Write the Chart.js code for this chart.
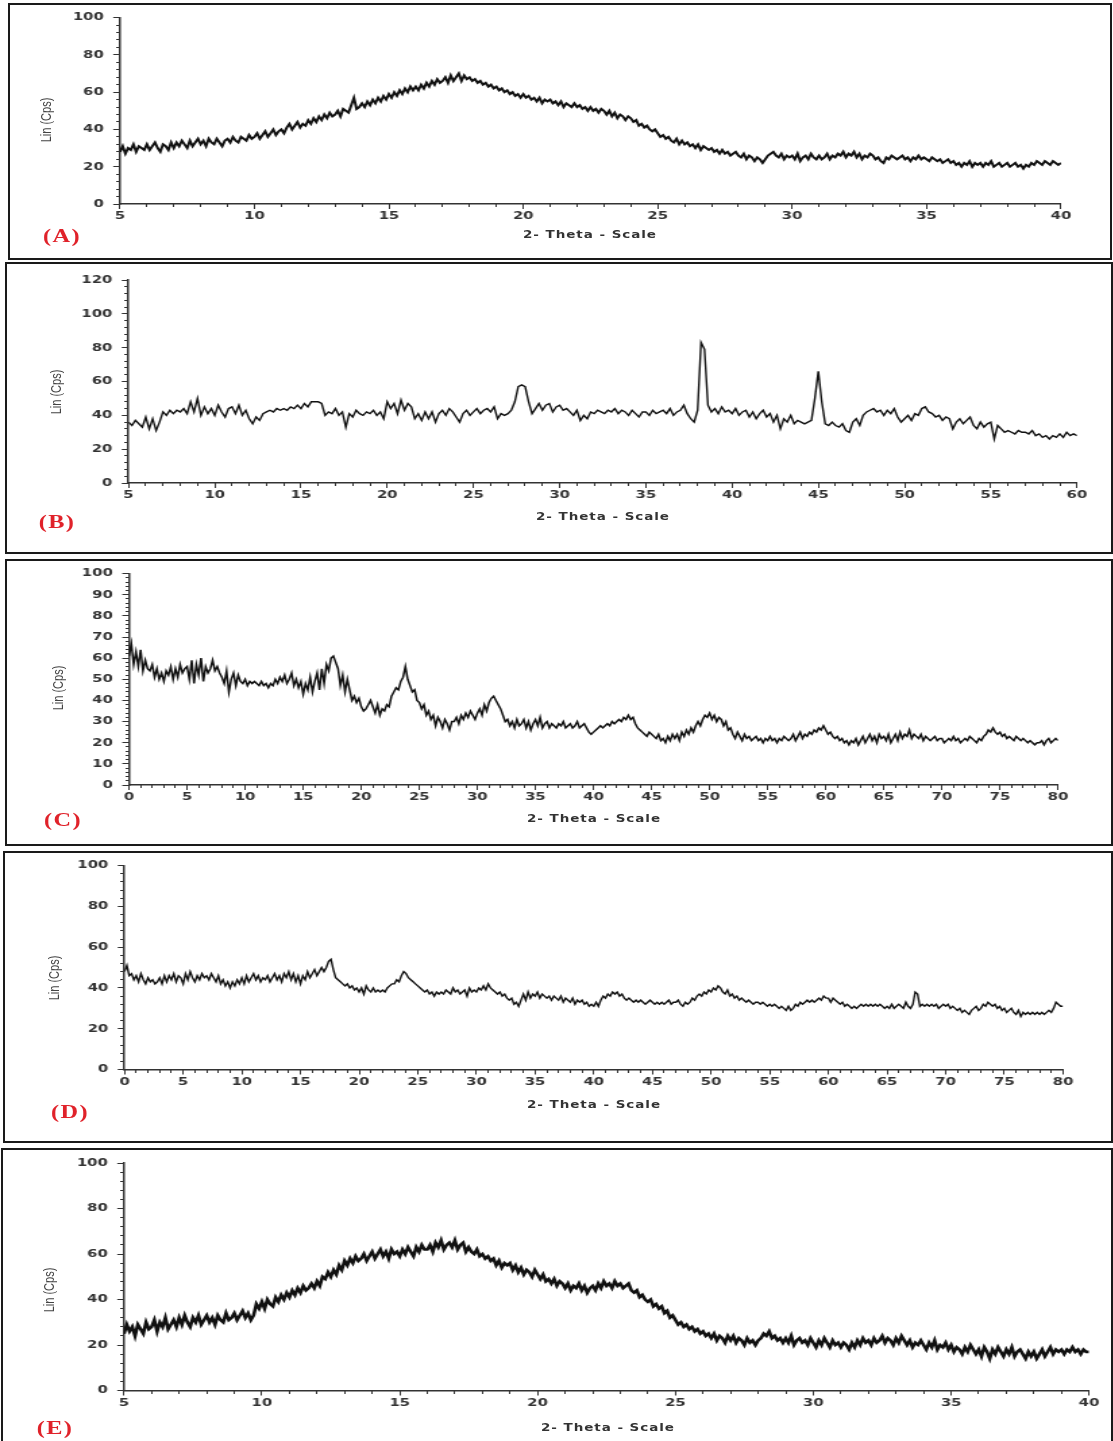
<!DOCTYPE html>
<html>
<head>
<meta charset="utf-8">
<script src="https://cdn.jsdelivr.net/npm/chart.js@4.4.1/dist/chart.umd.min.js"></script>
<style>
  html, body { margin: 0; padding: 0; background: #fff; }
  body { width: 1113px; height: 1441px; position: relative; overflow: hidden; }
  .frame { position: absolute; box-sizing: border-box; border: 2px solid #1a1a1a; }
  .panel { position: absolute; left: 0; width: 825px; transform: scaleX(1.35); transform-origin: 0 0; }
  .cw { position: absolute; left: 0; top: 0; width: 100%; height: 100%; }
  .xt { position: absolute; font: bold 10px "DejaVu Sans"; letter-spacing: 0.7px; color: #333; transform: translate(-50%, -50%); white-space: nowrap; }
  .yt { position: absolute; font: 11px "Liberation Sans"; color: #444; transform: translate(-50%, -50%) rotate(-90deg); white-space: nowrap; }
  .tag { position: absolute; font: bold 18px "Liberation Serif"; color: #e0222a; letter-spacing: 1px; transform: translate(-50%, -50%); white-space: nowrap; }
</style>
</head>
<body>
<script>
// 2-theta grids (instrument start / step) and Lin (Cps) readings
const aStart = 5, aStep = 0.1;
const aCps = [
  28,31,27,30,29,32,28,31,30,29, 32,29,31,33,30,28,32,31,29,33,
  30,33,31,34,32,30,34,31,33,35, 32,34,31,35,33,32,35,33,31,34,
  35,33,36,34,33,36,35,34,37,35, 36,38,35,37,39,36,38,40,37,39,
  40,38,41,43,40,42,44,41,43,42, 45,43,46,44,47,45,48,46,49,47,
  48,50,47,51,50,49,53,57,51,52, 54,52,55,53,56,54,57,55,58,56,
  59,57,60,58,61,59,62,60,63,61, 63,61,64,62,65,63,66,64,67,65,
  66,68,65,69,66,68,70,66,69,67, 68,66,67,65,66,64,65,63,64,62,
  63,61,62,60,61,59,60,58,59,57, 59,57,58,56,57,55,57,54,56,55,
  56,54,55,53,55,52,54,53,52,54, 52,53,51,52,50,52,50,51,49,51,
  50,48,50,47,49,46,48,47,45,47, 46,44,45,42,43,41,42,40,39,40,
  38,36,37,35,36,34,33,35,32,34, 32,33,31,32,30,32,29,31,30,29,
  30,28,29,27,29,27,28,26,27,28, 26,25,27,24,26,25,23,25,24,22,
  24,26,27,28,26,25,27,24,26,25, 26,24,27,23,25,26,24,27,25,24,
  26,24,25,27,24,26,25,27,26,28, 25,27,26,28,25,27,24,26,25,27,
  26,24,25,23,22,25,24,26,25,24, 25,26,24,25,23,25,24,26,24,25,
  24,23,25,24,23,24,22,23,24,22, 23,21,22,20,22,21,23,20,22,21,
  22,20,22,21,23,20,21,22,20,21, 22,20,21,22,20,21,19,21,20,22,
  21,23,22,21,23,22,21,23,22,21, 22
];
const aTicksX = [5, 10, 15, 20, 25, 30, 35, 40];
const aTicksY = [0, 20, 40, 60, 80, 100];

const bStart = 5, bStep = 0.2;
const bCps = [
  36,34,37,35,33, 39,32,38,31,36, 42,40,43,41,43, 42,44,41,48,42, 50,40,45,41,44,
  40,46,42,39,44, 45,41,46,40,43, 38,35,39,37,41, 42,43,42,44,43, 44,43,45,44,46,
  44,47,45,48,48, 48,47,40,42,41, 44,40,42,33,41, 39,43,41,40,42, 41,43,40,42,38,
  48,44,47,41,49, 43,47,45,38,41, 37,42,38,42,36, 41,43,40,44,42, 39,36,41,43,40,
  42,44,41,43,44, 42,45,38,41,40, 41,43,48,57,58, 57,48,41,44,47, 43,46,47,42,45,
  46,43,44,42,40, 43,37,40,38,42, 41,43,42,41,43, 42,44,41,43,42, 40,43,41,39,42,
  42,40,43,41,42, 43,41,44,40,42, 43,46,41,38,36, 43,83,79,46,42, 44,41,45,42,43,
  41,44,40,42,43, 39,42,38,41,43, 39,41,36,40,32, 38,36,40,35,37, 36,35,36,37,50,
  66,48,35,34,36, 34,33,35,31,30, 36,38,34,40,42, 43,44,42,43,40, 43,41,44,39,36,
  38,40,37,41,40, 44,45,42,41,39, 40,37,39,38,32, 36,38,35,37,39, 34,32,36,33,35,
  36,26,34,32,30, 31,30,29,31,30, 30,29,31,28,29, 27,28,26,28,27, 29,27,30,28,29,
  28
];
const bTicksX = [5, 10, 15, 20, 25, 30, 35, 40, 45, 50, 55, 60];
const bTicksY = [0, 20, 40, 60, 80, 100, 120];

const cStart = 0, cStep = 0.2;
const cCps = [
  61,67,57,63,56, 64,54,59,55,54, 57,51,55,50,53, 49,54,52,56,50, 55,51,57,53,55,
  56,50,59,48,57, 52,60,49,56,53, 55,59,54,56,53, 51,48,54,44,50, 53,47,52,49,48,
  50,47,49,48,49, 48,47,49,47,48, 46,48,47,50,48, 51,49,52,48,50, 53,47,50,46,49,
  43,48,45,51,44, 49,53,45,55,48, 57,54,60,61,58, 55,47,52,44,50, 45,40,42,39,41,
  37,35,36,38,40, 37,34,38,33,36, 35,38,37,42,44, 46,45,49,51,56, 50,47,44,45,40,
  39,36,38,33,35, 31,33,28,32,30, 27,31,29,26,30, 30,32,29,33,31, 34,32,35,33,31,
  34,36,33,38,35, 39,41,42,40,38, 36,33,30,31,28, 30,27,31,28,29, 31,27,30,26,29,
  31,28,32,27,29, 30,27,29,28,27, 29,28,30,27,28, 29,27,28,30,27, 28,29,27,25,24,
  25,26,27,28,27, 28,29,28,30,29, 30,31,30,32,31, 33,31,32,29,27, 26,25,24,23,25,
  24,23,22,24,21, 22,20,23,21,24, 22,24,21,25,23, 26,24,27,25,28, 30,28,31,33,32,
  34,31,33,30,32, 31,28,30,26,27, 24,22,25,23,21, 24,22,23,21,22, 23,21,22,20,22,
  21,23,21,22,20, 22,21,23,22,21, 22,24,21,23,25, 22,24,23,25,24, 26,25,27,26,28,
  26,24,25,23,22, 23,21,22,20,21, 19,21,20,22,19, 21,23,20,22,24, 21,23,20,24,22,
  23,21,24,20,22, 24,21,25,22,24, 23,26,22,24,23, 22,24,21,23,22, 21,22,23,21,22,
  22,20,21,22,21, 23,21,22,20,21, 22,21,23,22,21, 20,22,21,23,24, 26,25,27,25,24,
  25,23,24,22,23, 22,21,23,22,21, 22,21,20,21,20, 19,20,20,21,19, 21,22,20,21,22,
  21
];
const cTicksX = [0, 5, 10, 15, 20, 25, 30, 35, 40, 45, 50, 55, 60, 65, 70, 75, 80];
const cTicksY = [0, 10, 20, 30, 40, 50, 60, 70, 80, 90, 100];

const dStart = 0, dStep = 0.2;
const dCps = [
  48,51,46,47,44, 46,43,47,44,42, 45,43,44,42,43, 45,42,46,43,46, 44,47,43,46,45,
  42,47,44,48,45, 43,46,44,47,45, 46,44,47,45,43, 46,42,44,41,43, 40,43,41,44,42,
  45,42,46,43,45, 47,44,46,43,45, 44,46,43,45,47, 44,46,43,47,45, 48,44,47,43,46,
  42,46,44,48,45, 47,49,46,48,50, 48,50,53,54,49, 45,44,43,42,41, 42,40,41,39,40,
  38,40,37,41,39, 38,40,38,39,38, 39,38,40,41,42, 42,44,43,46,48, 47,45,44,43,42,
  41,40,39,38,39, 37,38,36,38,37, 38,37,39,38,37, 40,38,39,37,38, 39,36,40,38,39,
  38,40,39,41,39, 42,40,39,38,37, 38,36,37,35,34, 35,32,33,31,34, 37,34,38,35,37,
  36,38,35,37,36, 35,36,34,36,35, 34,36,33,35,34, 33,35,32,34,33, 34,32,33,31,32,
  31,33,31,34,36, 35,37,36,38,37, 38,36,37,35,34, 35,34,33,34,33, 34,33,32,33,34,
  33,32,33,32,33, 32,33,34,32,33, 33,34,32,31,33, 32,33,35,34,36, 37,36,38,37,39,
  38,40,39,41,40, 38,37,39,36,37, 35,36,34,35,34, 33,34,33,32,33, 33,32,33,32,31,
  32,31,32,31,30, 31,30,29,31,29, 30,32,31,33,32, 33,34,33,34,33, 34,35,34,36,35,
  35,33,35,34,33, 32,33,31,32,31, 30,31,30,31,32, 31,32,31,32,31, 32,31,32,31,30,
  31,30,32,30,31, 32,31,30,33,31, 30,32,38,37,31, 32,31,32,31,32, 31,32,30,31,32,
  31,32,30,31,30, 29,30,28,29,28, 27,29,30,31,29, 30,32,31,33,32, 31,32,30,31,29,
  30,28,29,30,28, 27,29,26,28,27, 28,27,28,27,28, 27,28,27,28,29, 28,30,33,32,31,
  31
];
const dTicksX = [0, 5, 10, 15, 20, 25, 30, 35, 40, 45, 50, 55, 60, 65, 70, 75, 80];
const dTicksY = [0, 20, 40, 60, 80, 100];

const eStart = 5, eStep = 0.1;
const eCps = [
  25,29,26,28,24,29,27,25,30,27, 28,31,26,30,28,32,27,29,31,28,
  32,29,33,30,28,32,30,33,29,31, 33,30,32,29,33,31,30,34,31,32,
  34,31,33,35,32,34,31,33,38,36, 39,36,40,38,37,41,39,42,40,43,
  41,44,42,45,43,46,44,45,47,45, 48,46,50,49,52,50,53,51,55,53,
  57,55,58,56,59,57,58,60,57,59, 61,58,60,62,59,61,58,62,60,61,
  59,62,60,63,61,59,63,61,64,62, 62,64,61,65,63,66,62,64,65,63,
  66,62,64,65,61,63,61,60,62,59, 60,58,59,57,58,55,57,54,56,55,
  56,53,55,52,54,51,53,52,50,53, 51,49,51,48,49,47,49,46,48,47,
  45,47,44,46,45,47,44,46,43,45, 46,44,47,45,48,46,47,45,48,46,
  47,45,46,47,44,43,44,41,42,40, 39,40,37,38,36,37,34,35,32,33,
  31,29,30,28,29,27,28,26,27,25, 26,24,25,23,25,22,24,23,21,24,
  22,24,21,23,22,20,23,21,22,20, 22,23,25,24,26,23,24,22,23,21,
  23,21,24,20,22,23,21,22,20,23, 21,19,22,20,23,21,19,22,20,21,
  19,21,20,18,21,19,22,20,23,21, 22,20,23,21,22,24,21,23,22,20,
  23,21,24,22,20,22,19,21,20,22, 20,18,21,19,22,18,20,19,21,18,
  20,17,19,18,16,19,17,20,18,16, 18,15,19,17,14,18,16,19,17,15,
  18,16,19,15,17,18,16,14,17,15, 17,14,16,18,15,17,19,16,18,17,
  18,16,18,17,19,17,18,16,18,17, 17
];
const eTicksX = [5, 10, 15, 20, 25, 30, 35, 40];
const eTicksY = [0, 20, 40, 60, 80, 100];

const SX = 1.35;      // the figure is stretched sideways
const LOCAL_W = 825;  // 825 * 1.35 ~ page width

// page geometry of each panel (pixels)
const panels = [
  { tag: '(A)', start: aStart, step: aStep, cps: aCps, ticksX: aTicksX, ticksY: aTicksY, xMinor: 1, yMinor: 4,
    frame: [8, 3, 1104, 257], top: 4, height: 255, axisL: 120, axisR: 1061, yTop: 17, yZero: 204, lw: 2.0,
    xt: [590, 234], yt: [46, 120], tg: [62, 236] },
  { tag: '(B)', start: bStart, step: bStep, cps: bCps, ticksX: bTicksX, ticksY: bTicksY, xMinor: 1, yMinor: 4,
    frame: [5, 262, 1108, 292], top: 263, height: 290, axisL: 128.5, axisR: 1077, yTop: 280, yZero: 483, lw: 1.4,
    xt: [603, 516], yt: [55, 392], tg: [57, 522] },
  { tag: '(C)', start: cStart, step: cStep, cps: cCps, ticksX: cTicksX, ticksY: cTicksY, xMinor: 1, yMinor: 2,
    frame: [5, 559, 1108, 287], top: 560, height: 285, axisL: 129, axisR: 1058, yTop: 568.5, yZero: 785, lw: 1.5,
    xt: [594, 818], yt: [58, 688], tg: [63, 820] },
  { tag: '(D)', start: dStart, step: dStep, cps: dCps, ticksX: dTicksX, ticksY: dTicksY, xMinor: 1, yMinor: 4,
    frame: [3, 851, 1110, 292], top: 852, height: 290, axisL: 124.5, axisR: 1063, yTop: 862, yZero: 1069.5, lw: 1.4,
    xt: [594, 1104], yt: [54, 978], tg: [70, 1112] },
  { tag: '(E)', start: eStart, step: eStep, cps: eCps, ticksX: eTicksX, ticksY: eTicksY, xMinor: 1, yMinor: 4,
    frame: [1, 1148, 1112, 300], top: 1149, height: 292, axisL: 124, axisR: 1089, yTop: 1163, yZero: 1390.5, lw: 2.6,
    xt: [608, 1427], yt: [48, 1290], tg: [55, 1428] }
];

const tickFont = { family: 'DejaVu Sans', size: 11, weight: 'bold' };
const ink = '#333';

function addText(parent, cls, text, x, y) {
  const el = document.createElement('div');
  el.className = cls;
  el.textContent = text;
  el.style.left = x + 'px';
  el.style.top = y + 'px';
  parent.appendChild(el);
}

panels.forEach((p) => {
  const frame = document.createElement('div');
  frame.className = 'frame';
  frame.style.left = p.frame[0] + 'px';
  frame.style.top = p.frame[1] + 'px';
  frame.style.width = p.frame[2] + 'px';
  frame.style.height = p.frame[3] + 'px';
  document.body.appendChild(frame);

  const panel = document.createElement('div');
  panel.className = 'panel';
  panel.style.top = p.top + 'px';
  panel.style.height = p.height + 'px';
  document.body.appendChild(panel);

  const cw = document.createElement('div');
  cw.className = 'cw';
  const canvas = document.createElement('canvas');
  cw.appendChild(canvas);
  panel.appendChild(cw);

  addText(panel, 'xt', '2- Theta - Scale', p.xt[0] / SX, p.xt[1] - p.top);
  addText(panel, 'yt', 'Lin (Cps)', p.yt[0] / SX, p.yt[1] - p.top);
  addText(panel, 'tag', p.tag, p.tg[0] / SX, p.tg[1] - p.top);

  const pts = p.cps.map((v, i) => ({ x: +(p.start + i * p.step).toFixed(2), y: v }));
  const xMin = p.ticksX[0], xMax = p.ticksX[p.ticksX.length - 1];
  const yMax = p.ticksY[p.ticksY.length - 1];

  new Chart(canvas, {
    type: 'line',
    data: {
      datasets: [{
        data: pts,
        xAxisID: 'x',
        yAxisID: 'y',
        borderColor: '#111',
        borderWidth: p.lw,
        borderJoinStyle: 'miter',
        pointRadius: 0,
        tension: 0,
        fill: false
      }]
    },
    options: {
      responsive: true,
      maintainAspectRatio: false,
      animation: false,
      events: [],
      layout: { padding: { left: 0, right: LOCAL_W - p.axisR / SX, top: p.yTop - p.top, bottom: 0 } },
      plugins: { legend: { display: false }, tooltip: { enabled: false } },
      scales: {
        x: {
          type: 'linear', position: 'bottom', min: xMin, max: xMax,
          afterBuildTicks: (s) => { s.ticks = p.ticksX.map((v) => ({ value: v })); },
          ticks: { autoSkip: false, maxRotation: 0, padding: 1, color: ink, font: tickFont },
          grid: { drawOnChartArea: false, tickLength: 5, tickColor: ink, tickWidth: 1 },
          border: { color: ink, width: 1.5 },
          afterFit: (s) => { s.height = p.top + p.height - p.yZero; }
        },
        xm: {
          type: 'linear', axis: 'x', position: { y: 0 }, min: xMin, max: xMax,
          ticks: { display: false, stepSize: p.xMinor },
          grid: { drawOnChartArea: false, tickLength: 3, tickColor: ink, tickWidth: 1 },
          border: { display: false }
        },
        y: {
          type: 'linear', position: 'left', min: 0, max: yMax,
          afterBuildTicks: (s) => { s.ticks = p.ticksY.map((v) => ({ value: v })); },
          ticks: { padding: 7, color: ink, font: tickFont },
          grid: { drawOnChartArea: false, tickLength: 5, tickColor: ink, tickWidth: 1 },
          border: { color: ink, width: 1.5 },
          afterFit: (s) => { s.width = p.axisL / SX; }
        },
        ym: {
          type: 'linear', axis: 'y', position: { x: xMin }, min: 0, max: yMax,
          ticks: { display: false, stepSize: p.yMinor },
          grid: { drawOnChartArea: false, tickLength: 3, tickColor: ink, tickWidth: 1 },
          border: { display: false }
        }
      }
    }
  });
});
</script>
</body>
</html>
